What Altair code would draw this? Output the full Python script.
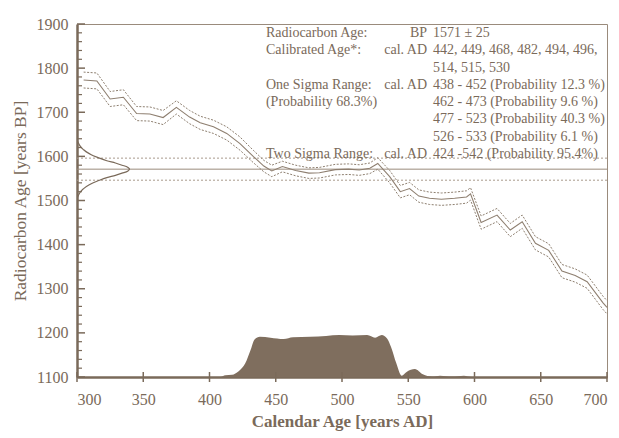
import altair as alt
import pandas as pd

# calibration curve (middle line) and its 1-sigma band half-width
years = [305,315,325,335,345,355,365,375,385,393,403,413,423,433,441,447,455,465,475,483,495,505,513,521,527,
         536,544,551,558,566,575,585,594,597,605,617,627,636,646,656,666,676,685,697,700]
mid = [1773,1771,1730,1734,1697,1696,1688,1711,1689,1676,1667,1652,1629,1600,1578,1567,1577,1568,1562,1563,1570,1571,1569,1573,1584,
       1554,1520,1527,1510,1505,1503,1505,1508,1515,1450,1467,1433,1452,1403,1387,1340,1330,1316,1268,1258]
sigma = [18,18,17,17,16,16,16,15,15, 15,15,15,15,14, 13,13,12,12,12,12,12,12,12,12,13,
         14,14,14,14,14,14,14,14,14, 15,15,15,15,15,15,15,15,15,15,15]

# probability distribution (calendar) drawn on the BP axis above 1100
hx = [300,408,412,417,422,427,431,434,438,446,456,463,476,488,498,508,519,525,530,534,
      537,541,545,549,555,561,568,574,583,592,598,600,700]
hy = [1100,1100,1104,1105,1113,1131,1161,1185,1191,1189,1186,1190,1191,1193,1195,1194,1195,1189,1195,1187,
      1168,1131,1103,1112,1118,1106,1101,1103,1101,1103,1100,1100,1100]

gbp = [1635,1625,1615,1605,1596,1590,1585,1580,1575,1571,1567,1562,1557,1552,1546,1537,1527,1517,1507]
gx = [0.3,2,5,10,17,22.5,29,34,38.5,40,38.5,34,29,22.5,17,10,5,2,0.3]

# horizontal reference lines
hl_vals = [1596, 1571, 1546]
hl_kind = ["dot", "solid", "dot"]

# text block
row_y = [1880, 1840, 1801, 1762, 1723, 1684, 1645, 1606]
row_label = ["Radiocarbon Age:", "Calibrated Age*:", "", "One Sigma Range:", "(Probability 68.3%)", "", "", "Two Sigma Range:"]
row_unit = ["BP", "cal. AD", "", "cal. AD", "", "", "", "cal. AD"]
row_value = ["1571 \u00b1 25", "442, 449, 468, 482, 494, 496,", "514, 515, 530",
             "438 - 452 (Probability 12.3 %)", "462 - 473 (Probability 9.6 %)",
             "477 - 523 (Probability 40.3 %)", "526 - 533 (Probability 6.1 %)",
             "424 -542 (Probability 95.4%)"]

x_ticks = [300, 350, 400, 450, 500, 550, 600, 650, 700]
y_major = [1100, 1200, 1300, 1400, 1500, 1600, 1700, 1800, 1900]
y_minor = [v for v in range(1100, 1901, 20) if v % 100 != 0]

BROWN = "#7a6a5a"
FILL = "#7f6e5e"
LINE = "#8e7f70"
FONT = "Liberation Serif"
W, H = 530, 353

curve = pd.DataFrame({"year": years, "mid": mid,
                      "up": [m + s for m, s in zip(mid, sigma)],
                      "lo": [m - s for m, s in zip(mid, sigma)]})
hist = pd.DataFrame({"year": hx, "bp": hy})
gauss = pd.DataFrame({"bp": gbp, "year": [300 + v for v in gx], "i": list(range(len(gbp)))})
hl = pd.DataFrame({"bp": hl_vals, "kind": hl_kind})
txt = pd.DataFrame({"bp": row_y, "label": row_label, "unit": row_unit, "value": row_value})

xs = alt.Scale(domain=[300, 700], nice=False)
ys = alt.Scale(domain=[1100, 1900], nice=False)

xaxis = alt.Axis(values=x_ticks, format="d", title="Calendar Age [years AD]", ticks=False, grid=False,
                 labelPadding=14, titlePadding=6, titleFontWeight="bold")
yaxis = alt.Axis(values=y_major, format="d", title="Radiocarbon Age [years BP]", ticks=False, grid=False,
                 labelPadding=9, titlePadding=7, titleFontWeight="normal", titleFontSize=17.5)

area = alt.Chart(hist).mark_area(color=FILL, opacity=1, interpolate="monotone").encode(
    x=alt.X("year:Q", scale=xs, axis=xaxis),
    y=alt.Y("bp:Q", scale=ys, axis=yaxis),
    y2=alt.datum(1100),
)

base = alt.Chart(curve)
mid_line = base.mark_line(color=LINE, strokeWidth=1.1).encode(
    x=alt.X("year:Q", scale=xs), y=alt.Y("mid:Q", scale=ys))
up_line = base.mark_line(color=LINE, strokeWidth=1, strokeDash=[2, 1.5]).encode(
    x=alt.X("year:Q", scale=xs), y=alt.Y("up:Q", scale=ys))
lo_line = base.mark_line(color=LINE, strokeWidth=1, strokeDash=[2, 1.5]).encode(
    x=alt.X("year:Q", scale=xs), y=alt.Y("lo:Q", scale=ys))

hl_solid = alt.Chart(hl).transform_filter(alt.datum.kind == "solid").mark_rule(
    color="#9a8b7c", strokeWidth=1).encode(y=alt.Y("bp:Q", scale=ys))
hl_dot = alt.Chart(hl).transform_filter(alt.datum.kind == "dot").mark_rule(
    color="#a89a8c", strokeWidth=1, strokeDash=[2, 2]).encode(y=alt.Y("bp:Q", scale=ys))

gline = alt.Chart(gauss).mark_line(color=BROWN, strokeWidth=1.2, interpolate="monotone").encode(
    x=alt.X("year:Q", scale=xs), y=alt.Y("bp:Q", scale=ys), order="i:Q")

ymaj = alt.Chart(pd.DataFrame({"bp": y_major})).mark_rule(color=BROWN, strokeWidth=1.5).encode(
    y=alt.Y("bp:Q", scale=ys), x=alt.value(0), x2=alt.value(8))
ymin = alt.Chart(pd.DataFrame({"bp": y_minor})).mark_rule(color=BROWN, strokeWidth=1.2).encode(
    y=alt.Y("bp:Q", scale=ys), x=alt.value(0), x2=alt.value(5))
xt = alt.Chart(pd.DataFrame({"year": x_ticks})).mark_rule(color=BROWN, strokeWidth=1.5).encode(
    x=alt.X("year:Q", scale=xs), y=alt.value(H - 5), y2=alt.value(H + 5))

tbase = alt.Chart(txt)
t_label = tbase.mark_text(align="left", baseline="middle", font=FONT, fontSize=14, color=BROWN).encode(
    x=alt.datum(442.6), y=alt.Y("bp:Q", scale=ys), text="label:N")
t_unit = tbase.mark_text(align="right", baseline="middle", font=FONT, fontSize=14, color=BROWN).encode(
    x=alt.datum(564.2), y=alt.Y("bp:Q", scale=ys), text="unit:N")
t_value = tbase.mark_text(align="left", baseline="middle", font=FONT, fontSize=14, color=BROWN).encode(
    x=alt.datum(568.7), y=alt.Y("bp:Q", scale=ys), text="value:N")

chart = alt.layer(
    area, hl_dot, hl_solid, up_line, lo_line, mid_line, gline, ymaj, ymin, xt, t_label, t_unit, t_value
).properties(
    width=W, height=H,
    autosize=alt.AutoSizeParams(type="none"),
    padding={"left": 69, "top": 16, "right": 4, "bottom": 60},
).configure_view(
    stroke="#9a8b7c", strokeWidth=1
).configure_axis(
    labelFont=FONT, labelFontSize=16, labelColor=BROWN,
    titleFont=FONT, titleFontSize=17, titleColor=BROWN,
    domainColor=BROWN, domainWidth=2.5,
)

chart.save("out.html", embed_options={"renderer": "svg", "actions": False})
